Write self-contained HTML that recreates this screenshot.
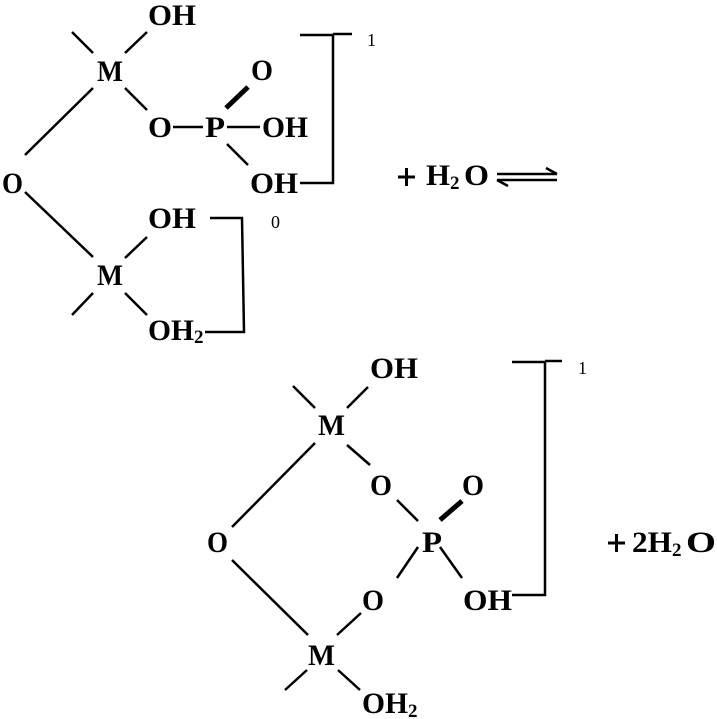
<!DOCTYPE html>
<html><head><meta charset="utf-8"><style>
html,body{margin:0;padding:0;background:#fff;}
svg{display:block;}
text{font-family:"Liberation Serif",serif;font-weight:bold;font-size:30px;fill:#000;}
text.s{font-size:19px;}
text.n{font-size:18px;font-weight:normal;}
</style></head><body>
<svg width="717" height="719" viewBox="0 0 717 719" xmlns="http://www.w3.org/2000/svg">
<g stroke="#000" stroke-width="2.5" fill="none">
<line x1="72" y1="32" x2="93" y2="53"/>
<line x1="125" y1="53" x2="147" y2="32"/>
<line x1="125" y1="88" x2="147" y2="110"/>
<line x1="173" y1="127" x2="203" y2="127"/>
<line x1="227" y1="127" x2="260" y2="127"/>
<line x1="226" y1="108" x2="248" y2="87" stroke-width="5"/>
<line x1="227" y1="144" x2="248" y2="165"/>
<polyline points="300,35 333,35 333,183 300,183"/>
<line x1="333" y1="34" x2="352" y2="34"/>
<line x1="93" y1="88" x2="25" y2="155"/>
<line x1="25" y1="192" x2="93" y2="257"/>
<line x1="125" y1="258" x2="147" y2="237"/>
<line x1="72" y1="315" x2="93" y2="293"/>
<line x1="125" y1="293" x2="147" y2="315"/>
<polyline points="210,218 242,218 244,332 205,332"/>
<line x1="497" y1="174" x2="557" y2="174"/>
<line x1="546" y1="168" x2="557" y2="174"/>
<line x1="497" y1="180" x2="557" y2="180"/>
<line x1="497" y1="180" x2="508" y2="186"/>
<line x1="398" y1="177" x2="415" y2="177" stroke-width="3"/>
<line x1="406.5" y1="168" x2="406.5" y2="186" stroke-width="3"/>
<line x1="608" y1="543" x2="625" y2="543" stroke-width="3"/>
<line x1="616.5" y1="534" x2="616.5" y2="552" stroke-width="3"/>
<line x1="293" y1="386" x2="315" y2="408"/>
<line x1="347" y1="408" x2="368" y2="387"/>
<line x1="347" y1="445" x2="370" y2="465"/>
<line x1="440" y1="520" x2="462" y2="501" stroke-width="5"/>
<line x1="397" y1="500" x2="418" y2="521"/>
<line x1="418" y1="547" x2="397" y2="578"/>
<line x1="440" y1="547" x2="462" y2="578"/>
<polyline points="512,362 545,362 545,595 512,595"/>
<line x1="545" y1="361" x2="562" y2="361"/>
<line x1="315" y1="443" x2="232" y2="527"/>
<line x1="232" y1="560" x2="308" y2="635"/>
<line x1="361" y1="613" x2="337" y2="635"/>
<line x1="285" y1="690" x2="307" y2="670"/>
<line x1="338" y1="670" x2="360" y2="690"/>
</g>
<text x="148" y="25" textLength="48" lengthAdjust="spacingAndGlyphs">OH</text>
<text x="97" y="81" textLength="26" lengthAdjust="spacingAndGlyphs">M</text>
<text x="148" y="137" textLength="24" lengthAdjust="spacingAndGlyphs">O</text>
<text x="205" y="137" textLength="20" lengthAdjust="spacingAndGlyphs">P</text>
<text x="262" y="137" textLength="46" lengthAdjust="spacingAndGlyphs">OH</text>
<text x="251" y="80" textLength="22" lengthAdjust="spacingAndGlyphs">O</text>
<text x="250" y="193" textLength="48" lengthAdjust="spacingAndGlyphs">OH</text>
<text x="367" y="46" class="n">1</text>
<text x="2" y="193" textLength="21" lengthAdjust="spacingAndGlyphs">O</text>
<text x="148" y="228" textLength="48" lengthAdjust="spacingAndGlyphs">OH</text>
<text x="97" y="285" textLength="26" lengthAdjust="spacingAndGlyphs">M</text>
<text x="148" y="340" textLength="46" lengthAdjust="spacingAndGlyphs">OH</text><text x="194" y="343" class="s">2</text>
<text x="271" y="228" class="n">0</text>
<text x="426" y="185" textLength="24" lengthAdjust="spacingAndGlyphs">H</text><text x="450" y="189" class="s">2</text>
<text x="464" y="185" textLength="25" lengthAdjust="spacingAndGlyphs">O</text>
<text x="370" y="378" textLength="48" lengthAdjust="spacingAndGlyphs">OH</text>
<text x="318" y="435" textLength="27" lengthAdjust="spacingAndGlyphs">M</text>
<text x="370" y="495" textLength="22" lengthAdjust="spacingAndGlyphs">O</text>
<text x="462" y="495" textLength="22" lengthAdjust="spacingAndGlyphs">O</text>
<text x="422" y="552" textLength="20" lengthAdjust="spacingAndGlyphs">P</text>
<text x="207" y="552" textLength="21" lengthAdjust="spacingAndGlyphs">O</text>
<text x="362" y="610" textLength="22" lengthAdjust="spacingAndGlyphs">O</text>
<text x="463" y="610" textLength="49" lengthAdjust="spacingAndGlyphs">OH</text>
<text x="578" y="374" class="n">1</text>
<text x="308" y="665" textLength="27" lengthAdjust="spacingAndGlyphs">M</text>
<text x="362" y="713" textLength="46" lengthAdjust="spacingAndGlyphs">OH</text><text x="408" y="717" class="s">2</text>
<text x="632" y="552" textLength="40" lengthAdjust="spacingAndGlyphs">2H</text><text x="672" y="556" class="s">2</text>
<text x="686" y="552" textLength="30" lengthAdjust="spacingAndGlyphs">O</text>
</svg>
</body></html>
